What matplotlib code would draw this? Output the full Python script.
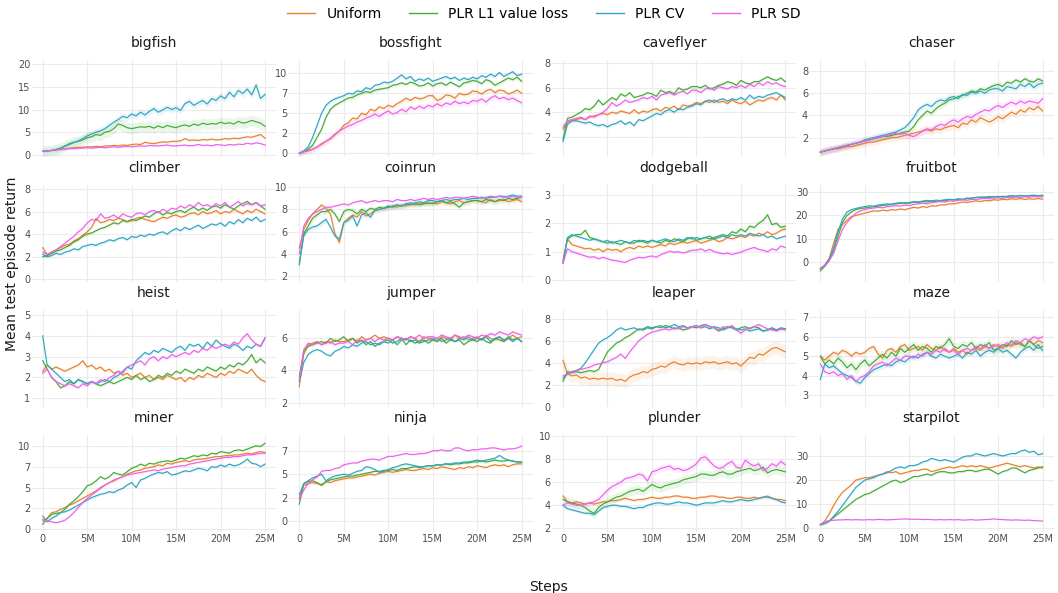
import numpy as np
import matplotlib.pyplot as plt
from matplotlib.lines import Line2D

steps = np.arange(0, 25.5, 0.5) * 1e6

methods = ["Uniform", "PLR L1 value loss", "PLR CV", "PLR SD"]
colors = ["#E7802B", "#44AA33", "#2EA5C3", "#EE5FEE"]

games = ["bigfish", "bossfight", "caveflyer", "chaser",
         "climber", "coinrun", "dodgeball", "fruitbot",
         "heist", "jumper", "leaper", "maze",
         "miner", "ninja", "plunder", "starpilot"]

bigfish_uniform = [0.8, 0.9, 1.0, 1.1, 1.3, 1.4, 1.5, 1.6, 1.7, 1.7,
                   1.8, 1.8, 1.9, 1.8, 2.0, 2.0, 2.1, 2.0, 2.2, 2.1,
                   2.3, 2.4, 2.3, 2.8, 2.6, 2.5, 2.7, 2.9, 2.8, 3.0,
                   3.0, 3.1, 3.6, 3.2, 3.3, 3.2, 3.4, 3.3, 3.5, 3.3,
                   3.4, 3.6, 3.5, 3.7, 3.6, 3.8, 4.0, 3.9, 4.2, 4.5,
                   3.7]
bigfish_l1 = [0.8, 0.9, 1.0, 1.2, 1.5, 2.0, 2.5, 2.8, 3.0, 3.3,
              3.8, 4.0, 4.5, 4.3, 5.0, 5.2, 5.8, 6.8, 6.5, 6.0,
              5.8, 6.0, 6.2, 6.1, 6.3, 5.9, 6.4, 6.0, 6.5, 6.2,
              6.0, 6.4, 6.6, 6.3, 6.8, 6.5, 7.0, 6.7, 6.9, 6.8,
              7.2, 6.9, 7.1, 6.8, 7.4, 7.0, 7.2, 7.6, 7.3, 7.0,
              6.3]
bigfish_cv = [0.8, 0.9, 1.0, 1.2, 1.5, 1.9, 2.3, 2.7, 3.1, 3.6,
              4.2, 4.6, 5.0, 5.3, 5.8, 6.5, 7.2, 7.8, 8.5, 8.2,
              9.0, 8.6, 9.4, 8.8, 9.6, 10.2, 9.4, 9.9, 10.5, 10.0,
              10.4, 9.8, 11.3, 11.8, 10.9, 11.5, 12.0, 11.2, 12.4, 12.0,
              13.0, 12.4, 13.8, 12.8, 14.2, 13.5, 14.5, 13.2, 15.4, 12.4,
              13.3]
bigfish_sd = [0.8, 0.9, 1.0, 1.1, 1.2, 1.3, 1.4, 1.4, 1.5, 1.5,
              1.6, 1.5, 1.6, 1.7, 1.6, 1.7, 1.8, 1.7, 1.8, 1.9,
              1.8, 1.9, 2.0, 1.9, 2.1, 2.0, 2.0, 2.1, 2.2, 2.0,
              2.0, 2.1, 2.2, 2.0, 2.1, 2.3, 2.1, 2.2, 2.0, 2.3,
              2.2, 2.1, 2.3, 2.2, 2.4, 2.3, 2.6, 2.4, 2.7, 2.5,
              2.2]

bossfight_uniform = [0.0, 0.2, 0.3, 0.5, 0.8, 1.2, 1.5, 1.8, 2.3, 2.8,
                     3.5, 3.8, 4.4, 4.3, 5.0, 4.8, 5.5, 5.3, 5.8, 5.6,
                     6.0, 5.8, 6.2, 6.5, 6.9, 6.6, 7.0, 6.8, 6.9, 7.2,
                     7.2, 6.6, 6.8, 7.3, 7.2, 6.9, 7.5, 7.3, 7.4, 7.8,
                     7.7, 7.4, 7.8, 8.0, 7.6, 7.9, 7.8, 7.4, 7.6, 7.9,
                     7.5]
bossfight_l1 = [0.0, 0.2, 0.5, 1.0, 2.0, 3.0, 4.5, 5.5, 6.0, 6.3,
                6.6, 6.9, 7.0, 7.3, 7.5, 7.7, 7.6, 7.9, 8.0, 8.1,
                8.2, 8.5, 8.6, 8.8, 8.6, 8.9, 8.7, 8.4, 8.5, 8.8,
                8.4, 8.7, 8.8, 8.5, 8.9, 8.6, 8.3, 8.8, 8.9, 9.1,
                9.0, 8.7, 9.2, 9.0, 8.5, 8.8, 9.1, 9.4, 9.2, 9.5,
                9.0]
bossfight_cv = [0.0, 0.3, 0.8, 2.0, 3.5, 5.0, 6.0, 6.5, 6.8, 7.0,
                7.2, 7.5, 7.4, 7.8, 7.7, 8.2, 8.0, 8.5, 8.6, 8.9,
                8.8, 9.0, 9.4, 9.8, 9.3, 9.6, 9.0, 9.3, 9.1, 9.4,
                9.0, 9.2, 9.4, 9.6, 9.3, 9.5, 9.1, 9.4, 9.2, 9.5,
                9.3, 9.7, 9.5, 9.9, 9.6, 10.1, 9.6, 9.9, 10.2, 9.7,
                9.9]
bossfight_sd = [0.0, 0.2, 0.3, 0.5, 0.8, 1.1, 1.5, 1.9, 2.4, 2.8,
                3.1, 3.4, 3.6, 3.9, 4.1, 4.4, 4.6, 4.9, 4.6, 5.0,
                5.3, 4.9, 5.1, 5.5, 5.2, 5.8, 5.5, 5.9, 5.6, 6.0,
                5.8, 6.2, 5.9, 6.3, 6.1, 6.5, 6.2, 6.4, 6.2, 6.6,
                6.5, 6.8, 6.4, 6.9, 7.2, 6.8, 7.0, 6.7, 6.9, 6.6,
                6.3]

caveflyer_uniform = [2.6, 3.2, 3.3, 3.4, 3.5, 3.4, 3.6, 3.7, 3.8, 3.9,
                     3.8, 4.0, 3.9, 4.1, 4.0, 3.9, 4.2, 3.9, 4.1, 4.0,
                     4.2, 4.3, 4.1, 4.4, 4.3, 4.5, 4.2, 4.6, 4.5, 4.6,
                     4.8, 4.7, 4.9, 4.8, 5.0, 4.8, 4.9, 4.7, 5.0, 4.8,
                     4.7, 4.9, 4.6, 4.8, 5.0, 4.9, 5.1, 5.2, 5.0, 5.4,
                     5.0]
caveflyer_l1 = [1.8, 3.5, 3.6, 3.8, 4.0, 4.3, 4.2, 4.5, 5.0, 4.6,
                4.9, 5.2, 5.0, 5.5, 5.3, 5.6, 5.2, 5.3, 5.4, 5.6,
                5.5, 5.3, 5.8, 5.6, 5.7, 5.5, 6.0, 5.8, 5.9, 6.1,
                6.1, 6.0, 6.2, 5.9, 6.0, 6.2, 6.3, 6.5, 6.4, 6.2,
                6.6, 6.4, 6.3, 6.5, 6.5, 6.7, 6.9, 6.7, 6.6, 6.8,
                6.5]
caveflyer_cv = [1.6, 3.0, 3.3, 3.3, 3.2, 3.1, 3.2, 3.0, 2.9, 3.0,
                2.8, 3.0, 3.1, 3.3, 3.0, 3.2, 2.9, 3.4, 3.3, 3.5,
                3.7, 3.9, 3.8, 4.1, 4.2, 4.0, 4.3, 4.2, 4.4, 4.5,
                4.7, 4.6, 4.9, 5.0, 4.8, 5.0, 5.1, 4.9, 5.1, 5.0,
                5.2, 5.0, 5.4, 5.1, 5.3, 5.2, 5.4, 5.5, 5.6, 5.4,
                5.2]
caveflyer_sd = [2.8, 3.3, 3.4, 3.5, 3.6, 3.4, 3.7, 3.6, 3.8, 4.0,
                4.3, 4.8, 4.5, 4.7, 5.0, 4.8, 4.9, 5.0, 5.2, 5.1,
                5.3, 5.0, 5.4, 5.5, 5.6, 5.4, 5.6, 5.7, 5.5, 5.8,
                5.8, 5.6, 5.9, 6.0, 5.8, 6.1, 6.0, 5.9, 6.1, 6.0,
                6.2, 6.0, 6.3, 6.1, 6.4, 6.2, 6.5, 6.3, 6.4, 6.2,
                6.1]

chaser_uniform = [0.7, 0.8, 0.9, 1.0, 1.0, 1.1, 1.2, 1.2, 1.3, 1.4,
                  1.5, 1.6, 1.6, 1.7, 1.8, 1.9, 2.0, 2.0, 2.1, 2.2,
                  2.3, 2.4, 2.5, 2.6, 2.7, 2.6, 2.8, 2.7, 2.9, 3.0,
                  3.1, 2.9, 3.3, 3.2, 3.6, 3.4, 3.8, 3.6, 3.4, 3.6,
                  3.9, 3.7, 4.0, 4.3, 4.1, 4.5, 4.3, 4.7, 4.5, 4.8,
                  4.4]
chaser_l1 = [0.7, 0.8, 0.9, 1.0, 1.1, 1.2, 1.3, 1.4, 1.5, 1.6,
             1.7, 1.8, 1.9, 2.0, 2.1, 2.1, 2.2, 2.3, 2.4, 2.5,
             2.6, 3.0, 3.6, 4.0, 4.4, 4.2, 4.6, 4.9, 5.1, 5.4,
             5.5, 5.7, 5.8, 6.0, 6.2, 6.1, 6.4, 6.3, 6.5, 6.7,
             6.8, 6.6, 7.0, 6.9, 7.2, 7.0, 7.3, 7.1, 7.0, 7.3,
             7.1]
chaser_cv = [0.7, 0.8, 0.9, 1.0, 1.1, 1.2, 1.3, 1.4, 1.5, 1.6,
             1.8, 1.9, 2.0, 2.1, 2.2, 2.3, 2.4, 2.5, 2.7, 2.9,
             3.3, 3.8, 4.5, 4.8, 5.0, 4.8, 5.2, 5.4, 5.3, 5.6,
             5.7, 5.5, 5.9, 5.8, 6.1, 6.0, 6.2, 6.0, 6.3, 6.4,
             6.4, 6.2, 6.6, 6.5, 6.4, 6.8, 6.6, 6.9, 6.5, 6.8,
             6.9]
chaser_sd = [0.7, 0.8, 0.9, 1.0, 1.1, 1.2, 1.3, 1.4, 1.5, 1.6,
             1.7, 1.8, 1.9, 2.0, 2.1, 2.2, 2.3, 2.4, 2.3, 2.4,
             2.2, 2.1, 2.3, 2.6, 2.8, 2.7, 3.0, 3.2, 3.1, 3.4,
             3.6, 3.4, 3.7, 3.9, 3.8, 4.1, 4.3, 4.5, 4.4, 4.7,
             4.9, 4.7, 5.0, 5.2, 5.0, 5.3, 5.1, 5.3, 5.2, 5.1,
             5.5]

climber_uniform = [2.8, 2.2, 2.4, 2.6, 2.8, 3.0, 3.1, 3.4, 3.6, 3.9,
                   4.2, 4.6, 5.4, 5.0, 5.1, 5.3, 5.2, 5.4, 5.3, 5.1,
                   5.2, 5.4, 5.5, 5.3, 5.2, 5.1, 5.3, 5.5, 5.4, 5.6,
                   5.7, 5.5, 5.6, 5.8, 5.9, 5.7, 6.0, 5.8, 5.9, 6.1,
                   5.8, 6.0, 5.9, 6.2, 6.0, 5.8, 6.1, 5.9, 6.2, 6.0,
                   5.8]
climber_l1 = [2.0, 2.1, 2.3, 2.5, 2.6, 2.8, 3.0, 3.3, 3.5, 3.8,
              4.0, 4.1, 4.3, 4.5, 4.6, 4.8, 5.0, 4.9, 5.2, 5.1,
              5.3, 5.2, 5.4, 5.6, 5.5, 5.8, 6.0, 5.7, 5.9, 5.8,
              6.0, 6.1, 5.9, 6.2, 6.4, 6.1, 6.3, 6.1, 6.4, 6.5,
              6.3, 6.6, 6.4, 6.2, 6.5, 6.7, 6.9, 6.6, 6.8, 6.5,
              6.2]
climber_cv = [2.2, 2.0, 2.1, 2.3, 2.2, 2.4, 2.5, 2.7, 2.6, 2.9,
              3.0, 3.1, 3.0, 3.2, 3.3, 3.5, 3.4, 3.6, 3.7, 3.5,
              3.8, 3.7, 3.9, 3.8, 4.0, 3.9, 4.1, 4.2, 4.0, 4.3,
              4.5, 4.3, 4.6, 4.4, 4.6, 4.8, 4.5, 4.7, 4.9, 4.8,
              5.0, 4.7, 5.1, 4.9, 5.3, 5.0, 5.4, 5.2, 5.5, 5.1,
              5.3]
climber_sd = [2.4, 2.2, 2.4, 2.6, 2.9, 3.2, 3.5, 3.8, 4.2, 4.5,
              5.0, 5.3, 5.2, 5.8, 5.4, 5.5, 5.7, 5.4, 5.8, 5.6,
              5.5, 5.8, 5.9, 5.7, 6.0, 6.1, 5.9, 6.2, 6.0, 6.3,
              6.2, 6.5, 6.3, 6.6, 6.4, 6.8, 6.5, 6.6, 6.4, 6.7,
              6.5, 6.8, 6.4, 6.6, 6.9, 6.5, 6.7, 6.6, 6.8, 6.5,
              6.6]

coinrun_uniform = [4.5, 6.2, 7.0, 7.6, 8.0, 8.4, 8.1, 7.6, 5.8, 5.0,
                   6.8, 7.2, 7.5, 7.3, 7.8, 7.4, 7.6, 7.9, 8.0, 8.1,
                   8.2, 8.3, 8.2, 8.4, 8.3, 8.5, 8.4, 8.5, 8.6, 8.5,
                   8.6, 8.5, 8.7, 8.6, 8.5, 8.7, 8.8, 8.6, 8.7, 8.8,
                   8.8, 8.7, 8.6, 8.9, 8.7, 8.8, 8.9, 8.7, 8.8, 8.9,
                   8.7]
coinrun_l1 = [3.0, 5.8, 6.5, 7.2, 7.5, 7.8, 7.8, 8.0, 7.6, 6.9,
              7.8, 8.0, 7.9, 7.6, 8.0, 7.8, 8.1, 8.0, 8.2, 8.1,
              8.3, 8.2, 8.4, 8.3, 8.5, 8.4, 8.6, 8.4, 8.5, 8.6,
              8.5, 8.7, 8.8, 8.6, 8.7, 8.5, 8.2, 8.6, 8.7, 8.8,
              8.8, 8.7, 8.9, 8.8, 8.7, 8.9, 8.8, 9.0, 8.9, 9.0,
              9.1]
coinrun_cv = [3.2, 5.6, 6.2, 6.4, 6.5, 6.8, 7.1, 6.4, 5.6, 5.3,
              6.8, 7.0, 7.4, 6.5, 7.5, 7.7, 7.3, 7.9, 8.0, 8.1,
              8.2, 8.3, 8.4, 8.3, 8.5, 8.6, 8.5, 8.7, 8.6, 8.8,
              8.8, 8.7, 8.8, 8.9, 8.8, 8.9, 8.9, 9.0, 8.9, 9.0,
              9.0, 9.1, 9.0, 9.1, 9.1, 9.2, 9.1, 9.2, 9.3, 9.2,
              9.2]
coinrun_sd = [4.0, 6.5, 7.2, 7.6, 7.8, 8.0, 8.2, 8.2, 8.3, 8.4,
              8.5, 8.4, 8.6, 8.7, 8.8, 8.6, 8.7, 8.8, 8.7, 8.8,
              8.8, 8.7, 8.9, 8.8, 8.8, 8.9, 8.8, 8.9, 9.0, 8.9,
              9.0, 8.9, 9.0, 9.1, 9.0, 9.1, 9.1, 9.0, 9.1, 9.2,
              9.1, 9.0, 9.1, 9.2, 9.1, 9.2, 9.2, 9.1, 9.2, 9.1,
              9.1]

dodgeball_uniform = [0.7, 1.45, 1.25, 1.2, 1.15, 1.1, 1.12, 1.05, 1.1, 1.0,
                     1.1, 1.05, 1.08, 1.0, 1.1, 1.15, 1.1, 1.2, 1.15, 1.2,
                     1.15, 1.2, 1.25, 1.2, 1.3, 1.25, 1.3, 1.35, 1.3, 1.35,
                     1.4, 1.3, 1.35, 1.4, 1.45, 1.35, 1.4, 1.5, 1.45, 1.5,
                     1.55, 1.5, 1.6, 1.55, 1.65, 1.6, 1.7, 1.6, 1.65, 1.75,
                     1.8]
dodgeball_l1 = [0.6, 1.45, 1.55, 1.6, 1.6, 1.75, 1.5, 1.45, 1.4, 1.35,
                1.3, 1.35, 1.3, 1.25, 1.35, 1.3, 1.3, 1.4, 1.35, 1.3,
                1.4, 1.35, 1.3, 1.4, 1.35, 1.45, 1.4, 1.35, 1.45, 1.5,
                1.4, 1.45, 1.5, 1.45, 1.5, 1.55, 1.6, 1.55, 1.7, 1.65,
                1.8, 1.7, 1.9, 1.85, 2.0, 2.1, 2.3, 1.95, 2.0, 1.85,
                1.9]
dodgeball_cv = [0.6, 1.5, 1.6, 1.55, 1.5, 1.45, 1.4, 1.45, 1.4, 1.35,
                1.4, 1.3, 1.35, 1.4, 1.35, 1.3, 1.4, 1.35, 1.4, 1.35,
                1.4, 1.35, 1.4, 1.45, 1.4, 1.35, 1.45, 1.4, 1.5, 1.45,
                1.5, 1.45, 1.5, 1.55, 1.45, 1.5, 1.55, 1.5, 1.6, 1.55,
                1.6, 1.55, 1.65, 1.6, 1.55, 1.6, 1.5, 1.55, 1.45, 1.5,
                1.55]
dodgeball_sd = [0.6, 1.1, 1.0, 0.95, 0.9, 0.85, 0.8, 0.82, 0.75, 0.8,
                0.75, 0.7, 0.68, 0.65, 0.62, 0.7, 0.75, 0.8, 0.78, 0.82,
                0.85, 0.8, 0.9, 0.95, 1.02, 0.98, 1.0, 0.95, 1.0, 1.05,
                1.05, 1.1, 1.02, 1.08, 1.0, 0.96, 0.92, 0.95, 0.9, 0.94,
                0.98, 1.05, 1.1, 1.15, 1.08, 1.05, 1.0, 1.1, 1.05, 1.2,
                1.15]

fruitbot_uniform = [-3.0, -1.5, 1.5, 8.0, 14.0, 16.0, 18.0, 19.5, 20.0, 20.5,
                    21.0, 21.5, 22.0, 21.8, 22.3, 22.0, 22.5, 22.3, 22.8, 22.5,
                    23.0, 23.5, 23.2, 23.8, 23.5, 24.2, 24.0, 24.6, 24.5, 25.0,
                    25.0, 25.4, 25.8, 25.6, 26.0, 26.3, 26.0, 26.5, 26.3, 26.8,
                    26.6, 27.0, 26.8, 27.2, 27.0, 27.3, 26.9, 27.2, 27.0, 27.3,
                    27.0]
fruitbot_l1 = [-4.0, -2.0, 0.5, 5.0, 11.0, 17.0, 20.0, 21.5, 22.5, 23.0,
               23.2, 23.5, 23.8, 24.0, 24.3, 24.5, 24.8, 25.0, 25.2, 25.5,
               25.3, 25.8, 25.6, 26.0, 25.8, 26.2, 26.0, 26.5, 26.3, 26.8,
               26.7, 27.0, 26.8, 27.3, 27.5, 27.8, 28.0, 27.8, 28.2, 28.0,
               28.2, 28.0, 28.3, 28.5, 28.2, 28.6, 28.3, 28.5, 28.4, 28.6,
               28.5]
fruitbot_cv = [-3.0, -1.5, 1.0, 6.0, 13.0, 18.5, 21.5, 22.5, 23.0, 23.5,
               23.8, 24.2, 24.0, 24.5, 24.8, 25.0, 24.8, 25.3, 25.5, 25.2,
               25.6, 26.0, 25.8, 26.2, 26.5, 26.3, 26.6, 26.4, 26.8, 27.0,
               26.8, 27.2, 27.0, 27.5, 27.3, 27.8, 27.6, 28.0, 27.8, 28.2,
               28.0, 28.3, 28.1, 28.5, 28.3, 28.7, 28.4, 28.6, 28.8, 28.5,
               28.8]
fruitbot_sd = [-3.0, -1.8, 0.5, 3.5, 9.0, 14.0, 17.0, 19.0, 21.0, 22.0,
               22.5, 23.0, 23.2, 23.5, 23.3, 23.8, 24.0, 24.2, 24.0, 24.5,
               24.3, 24.8, 25.0, 25.3, 25.0, 25.5, 25.8, 26.0, 25.8, 26.3,
               26.2, 26.5, 26.8, 26.5, 27.0, 26.8, 27.2, 27.4, 27.2, 27.5,
               27.6, 27.4, 27.8, 27.6, 28.0, 27.8, 28.1, 27.9, 28.2, 28.0,
               28.1]

heist_uniform = [2.3, 2.6, 2.4, 2.5, 2.4, 2.3, 2.4, 2.5, 2.6, 2.8,
                 2.5, 2.6, 2.4, 2.5, 2.3, 2.4, 2.2, 2.3, 2.1, 2.2,
                 2.0, 2.1, 2.2, 2.0, 2.1, 1.9, 2.0, 1.9, 2.1, 2.0,
                 1.9, 2.0, 1.8, 2.0, 1.9, 2.1, 2.0, 2.2, 2.1, 2.0,
                 2.2, 2.1, 2.3, 2.2, 2.4, 2.3, 2.2, 2.4, 2.1, 1.9,
                 1.8]
heist_l1 = [2.8, 2.4, 2.0, 1.8, 1.5, 1.6, 1.8, 1.7, 1.9, 1.8,
            1.7, 1.8, 1.7, 1.6, 1.7, 1.8, 1.7, 1.8, 1.9, 2.0,
            1.9, 2.1, 1.9, 2.0, 1.8, 1.9, 2.1, 2.0, 2.2, 2.1,
            2.3, 2.2, 2.4, 2.3, 2.2, 2.4, 2.3, 2.5, 2.4, 2.3,
            2.5, 2.4, 2.6, 2.5, 2.7, 2.6, 2.8, 3.1, 2.7, 2.9,
            2.7]
heist_cv = [4.0, 2.6, 2.4, 2.2, 2.0, 1.8, 1.9, 1.7, 1.9, 1.8,
            1.7, 1.8, 1.7, 1.8, 1.9, 1.8, 2.0, 2.1, 2.3, 2.5,
            2.4, 2.8, 3.0, 3.2, 3.1, 3.3, 3.2, 3.4, 3.3, 3.2,
            3.4, 3.5, 3.3, 3.6, 3.5, 3.6, 3.4, 3.7, 3.5, 3.8,
            3.6, 3.5, 3.4, 3.6, 3.5, 3.3, 3.5, 3.4, 3.6, 3.5,
            3.9]
heist_sd = [2.2, 2.4, 2.0, 1.8, 1.7, 1.6, 1.7, 1.6, 1.5, 1.7,
            1.6, 1.8, 1.7, 1.9, 1.8, 2.0, 2.1, 2.3, 2.2, 2.5,
            2.6, 2.7, 2.8, 2.6, 2.9, 3.0, 2.8, 3.0, 2.9, 3.1,
            3.0, 3.1, 3.2, 3.1, 3.3, 3.2, 3.4, 3.3, 3.5, 3.4,
            3.5, 3.6, 3.5, 3.7, 3.6, 3.9, 4.1, 3.8, 3.6, 3.5,
            3.9]

jumper_uniform = [3.0, 5.0, 5.6, 5.7, 5.8, 5.6, 5.8, 5.7, 5.9, 5.8,
                  5.8, 5.9, 6.0, 5.8, 6.1, 5.9, 6.0, 6.2, 6.0, 6.1,
                  6.0, 5.9, 6.1, 6.0, 5.9, 6.1, 6.0, 5.8, 6.1, 6.0,
                  6.0, 5.8, 6.1, 6.0, 5.9, 6.2, 6.0, 6.1, 5.9, 6.0,
                  6.1, 5.9, 6.2, 6.0, 5.9, 6.1, 5.8, 6.0, 6.2, 6.0,
                  6.1]
jumper_l1 = [3.6, 5.2, 5.5, 5.6, 5.7, 5.8, 5.7, 6.0, 5.8, 5.9,
             6.1, 5.8, 6.0, 5.7, 5.9, 5.6, 5.8, 5.5, 5.7, 5.8,
             5.9, 5.7, 5.8, 6.0, 5.6, 5.9, 5.7, 5.8, 5.9, 5.7,
             5.9, 5.8, 6.0, 5.7, 5.9, 5.8, 5.9, 5.6, 5.8, 5.9,
             5.8, 6.0, 5.8, 5.7, 6.0, 5.9, 5.8, 6.1, 5.9, 6.0,
             5.8]
jumper_cv = [3.3, 4.5, 5.0, 5.2, 5.3, 5.2, 5.0, 4.9, 5.2, 5.3,
             5.5, 5.4, 5.6, 5.5, 5.7, 5.8, 5.6, 5.7, 5.6, 5.8,
             5.7, 5.9, 5.6, 5.9, 6.0, 5.8, 5.9, 5.7, 5.8, 5.9,
             5.9, 6.0, 5.8, 5.9, 6.0, 5.8, 6.0, 5.9, 6.1, 5.9,
             6.0, 5.9, 6.1, 5.8, 6.0, 6.1, 5.9, 6.0, 5.8, 6.0,
             5.8]
jumper_sd = [3.4, 5.3, 5.7, 5.6, 5.8, 5.6, 5.7, 5.8, 5.6, 5.7,
             5.7, 5.8, 5.6, 5.9, 5.8, 5.9, 6.0, 5.8, 6.0, 5.9,
             6.0, 5.9, 6.1, 6.0, 5.9, 6.1, 6.0, 6.2, 6.0, 6.1,
             6.1, 6.0, 6.2, 6.1, 6.0, 6.2, 6.1, 6.0, 6.2, 6.1,
             6.0, 6.2, 6.1, 6.3, 6.2, 6.4, 6.3, 6.2, 6.4, 6.3,
             6.2]

leaper_uniform = [4.2, 3.0, 2.8, 2.9, 2.6, 2.7, 2.5, 2.6, 2.5, 2.6,
                  2.5, 2.6, 2.4, 2.5, 2.3, 2.7, 2.9, 3.0, 3.2, 3.1,
                  3.4, 3.5, 3.7, 3.6, 3.9, 4.1, 3.9, 3.8, 4.0, 3.9,
                  4.0, 3.9, 4.1, 4.0, 4.1, 3.9, 4.0, 4.1, 3.9, 4.0,
                  3.7, 4.1, 4.5, 4.4, 4.8, 4.7, 5.0, 5.3, 5.4, 5.2,
                  5.0]
leaper_l1 = [2.3, 3.2, 3.1, 3.2, 3.1, 3.2, 3.3, 3.2, 3.4, 4.2,
             5.0, 5.4, 5.8, 6.0, 6.3, 6.5, 6.8, 7.1, 7.0, 7.2,
             7.1, 7.3, 7.2, 7.4, 7.3, 7.1, 7.2, 7.0, 7.1, 7.3,
             7.2, 7.4, 7.5, 7.3, 7.2, 6.9, 7.1, 7.3, 7.2, 7.0,
             7.2, 7.3, 7.1, 7.3, 7.2, 6.9, 7.0, 7.2, 7.0, 7.1,
             7.1]
leaper_cv = [2.6, 3.0, 3.2, 3.3, 3.5, 4.0, 4.6, 5.2, 5.8, 6.1,
             6.3, 6.6, 7.0, 7.2, 7.0, 7.1, 7.2, 7.0, 7.1, 7.3,
             7.2, 7.3, 7.4, 7.2, 7.3, 7.5, 7.3, 7.4, 7.2, 7.3,
             7.4, 7.2, 7.3, 7.1, 7.3, 7.2, 7.0, 7.2, 7.3, 7.1,
             7.0, 7.1, 6.9, 7.0, 7.1, 6.9, 7.0, 7.1, 7.0, 7.2,
             7.1]
leaper_sd = [2.8, 3.0, 3.1, 3.3, 3.4, 3.5, 3.6, 3.8, 3.9, 4.0,
             4.1, 4.3, 4.5, 4.8, 4.4, 5.0, 5.5, 6.0, 6.3, 6.6,
             6.8, 6.9, 7.0, 7.1, 7.0, 7.2, 7.1, 7.3, 7.2, 7.3,
             7.4, 7.2, 7.5, 7.3, 7.2, 7.0, 7.3, 7.2, 7.4, 7.0,
             6.7, 7.0, 7.2, 7.3, 7.5, 7.3, 7.1, 7.0, 6.9, 7.1,
             7.0]

maze_uniform = [5.0, 4.8, 5.0, 5.2, 5.1, 5.3, 5.2, 5.0, 5.2, 5.1,
                5.2, 5.4, 5.5, 5.1, 4.9, 5.3, 5.4, 5.2, 5.5, 5.6,
                5.3, 5.4, 5.5, 5.3, 5.6, 5.4, 5.3, 5.5, 5.3, 5.2,
                5.4, 5.2, 5.3, 5.1, 5.3, 5.4, 5.3, 5.5, 5.4, 5.6,
                5.5, 5.4, 5.6, 5.5, 5.7, 5.6, 5.5, 5.8, 5.6, 5.8,
                5.7]
maze_l1 = [5.0, 4.6, 4.8, 4.6, 4.9, 4.7, 4.4, 4.6, 4.3, 4.6,
           4.8, 4.5, 4.7, 4.9, 5.1, 4.9, 5.2, 5.0, 5.4, 5.2,
           5.4, 5.6, 5.3, 5.5, 5.4, 5.2, 5.5, 5.4, 5.6, 5.9,
           5.5, 5.4, 5.6, 5.5, 5.7, 5.4, 5.6, 5.5, 5.7, 5.3,
           5.4, 5.6, 5.5, 5.8, 5.6, 5.7, 5.5, 5.8, 5.6, 5.4,
           5.5]
maze_cv = [3.8, 4.6, 4.4, 4.5, 4.3, 4.1, 4.0, 3.9, 3.7, 3.6,
           3.9, 4.1, 4.3, 4.4, 4.5, 4.6, 4.5, 4.7, 4.8, 4.7,
           4.9, 5.0, 4.9, 5.1, 5.2, 5.0, 4.9, 5.1, 5.0, 4.9,
           5.0, 5.1, 4.9, 5.2, 5.1, 5.3, 5.0, 5.2, 5.3, 5.2,
           5.4, 5.2, 5.3, 5.1, 4.9, 5.2, 5.4, 5.5, 5.3, 5.6,
           5.3]
maze_sd = [4.6, 4.2, 4.1, 4.2, 4.0, 4.1, 3.8, 4.0, 3.7, 3.9,
           4.0, 4.2, 4.5, 4.6, 4.7, 4.5, 4.7, 4.9, 4.8, 5.0,
           5.0, 4.9, 5.1, 5.0, 5.2, 5.1, 5.3, 5.2, 5.4, 5.2,
           5.3, 5.1, 5.3, 5.4, 5.3, 5.5, 5.4, 5.6, 5.4, 5.5,
           5.6, 5.5, 5.7, 5.6, 5.8, 5.7, 5.9, 5.8, 6.0, 5.9,
           6.0]

miner_uniform = [1.0, 1.3, 2.0, 2.1, 2.4, 2.6, 2.9, 3.1, 3.4, 3.7,
                 4.0, 4.3, 4.6, 5.0, 5.3, 5.6, 5.8, 6.1, 6.3, 6.6,
                 6.8, 7.0, 7.1, 7.3, 7.4, 7.5, 7.7, 7.6, 7.9, 7.8,
                 8.0, 8.1, 8.2, 8.1, 8.3, 8.4, 8.4, 8.5, 8.6, 8.7,
                 8.7, 8.8, 8.8, 8.9, 8.9, 9.0, 9.1, 9.0, 9.2, 9.3,
                 9.2]
miner_l1 = [0.6, 1.3, 1.8, 1.9, 2.0, 2.4, 3.0, 3.4, 3.9, 4.5,
            5.2, 5.4, 5.8, 6.3, 6.0, 6.3, 6.8, 6.6, 6.5, 6.9,
            7.3, 7.5, 7.8, 7.6, 7.9, 7.8, 8.0, 8.1, 8.2, 8.1,
            8.3, 8.5, 8.4, 8.6, 8.8, 8.7, 8.9, 8.8, 9.1, 9.0,
            9.3, 9.2, 9.1, 9.4, 9.5, 9.4, 9.6, 9.8, 10.0, 9.9,
            10.3]
miner_cv = [1.6, 0.9, 1.3, 1.6, 2.0, 2.1, 2.3, 2.6, 2.9, 3.2,
            3.5, 3.8, 4.0, 4.2, 4.3, 4.5, 4.4, 4.7, 4.9, 5.3,
            5.6, 5.0, 5.9, 6.1, 6.4, 6.6, 6.8, 6.7, 6.9, 6.5,
            6.6, 6.8, 7.0, 6.9, 7.1, 7.3, 7.2, 7.0, 7.5, 7.4,
            7.7, 7.5, 7.8, 7.6, 7.7, 8.0, 8.4, 7.9, 7.8, 7.5,
            7.8]
miner_sd = [1.2, 1.0, 0.9, 0.8, 0.9, 1.1, 1.5, 2.0, 2.6, 3.2,
            3.7, 4.1, 4.5, 4.9, 5.3, 5.6, 5.9, 6.1, 6.3, 6.5,
            6.6, 6.7, 6.8, 6.9, 7.0, 7.1, 7.0, 7.2, 7.3, 7.4,
            7.5, 7.6, 7.6, 7.8, 7.9, 8.0, 8.1, 8.2, 8.3, 8.4,
            8.5, 8.6, 8.6, 8.7, 8.7, 8.8, 8.9, 8.9, 9.0, 9.1,
            9.1]

ninja_uniform = [2.5, 3.8, 4.0, 4.1, 4.0, 3.9, 4.2, 4.1, 4.3, 4.4,
                 4.5, 4.6, 4.6, 4.7, 4.8, 4.9, 5.0, 4.9, 5.1, 5.2,
                 5.3, 5.2, 5.3, 5.4, 5.5, 5.4, 5.4, 5.5, 5.6, 5.5,
                 5.7, 5.6, 5.8, 5.7, 5.6, 5.5, 5.7, 5.6, 5.8, 5.7,
                 5.9, 5.8, 5.7, 5.9, 6.0, 5.9, 6.0, 5.8, 6.0, 6.1,
                 6.1]
ninja_l1 = [1.8, 4.0, 4.2, 4.3, 4.1, 3.8, 4.2, 4.4, 4.5, 4.6,
            4.7, 4.8, 4.8, 4.9, 5.0, 5.1, 5.2, 5.3, 5.3, 5.4,
            5.4, 5.5, 5.4, 5.6, 5.6, 5.7, 5.8, 5.7, 5.8, 5.9,
            5.9, 6.0, 6.0, 6.1, 6.0, 6.1, 6.1, 6.2, 6.2, 6.3,
            6.3, 6.4, 6.3, 6.4, 6.5, 6.4, 6.4, 6.5, 6.4, 6.3,
            6.3]
ninja_cv = [2.8, 4.0, 4.3, 4.6, 4.8, 5.0, 4.3, 4.6, 4.8, 4.9,
            5.0, 4.9, 5.1, 5.3, 5.4, 5.8, 5.7, 5.5, 5.2, 5.3,
            5.5, 5.7, 5.8, 6.0, 6.1, 6.0, 5.9, 5.8, 5.8, 5.9,
            5.9, 6.0, 6.0, 6.1, 6.1, 6.2, 6.2, 6.3, 6.3, 6.4,
            6.5, 6.4, 6.5, 6.6, 6.7, 7.0, 6.7, 6.5, 6.4, 6.3,
            6.3]
ninja_sd = [2.3, 3.3, 4.0, 4.4, 4.7, 5.3, 5.4, 5.4, 5.6, 5.7,
            6.0, 6.1, 6.2, 6.2, 6.4, 6.5, 6.6, 6.6, 6.5, 6.7,
            6.9, 6.9, 7.0, 7.1, 7.2, 7.1, 7.1, 7.2, 7.2, 7.3,
            7.5, 7.5, 7.6, 7.5, 7.5, 7.8, 7.8, 7.6, 7.5, 7.6,
            7.6, 7.7, 7.7, 7.8, 7.8, 7.7, 7.6, 7.7, 7.7, 7.8,
            8.0]

plunder_uniform = [4.8, 4.3, 4.2, 4.3, 4.2, 4.1, 4.2, 4.1, 4.2, 4.3,
                   4.3, 4.4, 4.4, 4.5, 4.6, 4.5, 4.4, 4.5, 4.5, 4.6,
                   4.7, 4.6, 4.6, 4.7, 4.7, 4.8, 4.8, 4.7, 4.7, 4.6,
                   4.6, 4.7, 4.7, 4.8, 4.8, 4.7, 4.7, 4.6, 4.6, 4.7,
                   4.7, 4.6, 4.6, 4.7, 4.6, 4.7, 4.8, 4.6, 4.5, 4.5,
                   4.4]
plunder_l1 = [4.5, 4.3, 4.2, 4.1, 4.0, 3.8, 3.5, 3.3, 3.8, 4.1,
              4.3, 4.5, 4.7, 4.8, 5.0, 5.2, 5.3, 5.4, 5.2, 5.5,
              5.8, 5.6, 5.5, 5.7, 5.8, 5.9, 6.0, 6.2, 6.3, 6.4,
              6.5, 6.7, 6.7, 6.6, 6.6, 6.8, 6.9, 6.7, 6.7, 6.9,
              7.0, 7.1, 7.2, 7.0, 7.1, 7.3, 6.8, 7.0, 7.1, 7.0,
              6.9]
plunder_cv = [4.0, 3.7, 3.6, 3.5, 3.4, 3.3, 3.3, 3.2, 3.5, 3.8,
              3.9, 4.0, 4.0, 3.9, 3.9, 3.8, 3.7, 3.8, 3.8, 4.0,
              4.1, 4.2, 4.2, 4.1, 4.1, 4.2, 4.3, 4.2, 4.2, 4.1,
              4.0, 4.1, 4.2, 4.2, 4.2, 4.3, 4.4, 4.3, 4.3, 4.4,
              4.5, 4.4, 4.4, 4.5, 4.6, 4.7, 4.7, 4.6, 4.5, 4.3,
              4.2]
plunder_sd = [4.0, 4.2, 4.1, 4.0, 4.0, 4.1, 4.2, 4.3, 4.5, 4.9,
              5.3, 5.6, 5.8, 6.0, 6.3, 6.4, 6.5, 6.7, 6.6, 6.1,
              6.9, 7.0, 7.2, 7.3, 7.4, 7.1, 7.2, 7.0, 7.1, 7.3,
              7.6, 8.1, 8.2, 7.8, 7.4, 7.2, 7.3, 7.6, 7.8, 7.3,
              7.2, 7.9, 7.6, 7.4, 7.6, 7.0, 7.2, 7.6, 7.4, 7.8,
              7.5]

starpilot_uniform = [1.5, 3.0, 6.0, 9.5, 12.5, 15.0, 16.5, 18.0, 20.0, 20.5,
                     21.0, 21.0, 21.5, 22.0, 22.5, 23.5, 23.0, 23.5, 22.5, 23.0,
                     23.5, 24.0, 24.0, 24.5, 24.5, 23.5, 24.0, 24.5, 25.0, 25.5,
                     25.0, 25.5, 26.0, 25.5, 26.0, 25.5, 26.0, 25.5, 25.0, 25.5,
                     26.0, 26.5, 27.0, 26.5, 26.0, 25.5, 26.0, 25.5, 25.0, 25.5,
                     25.0]
starpilot_l1 = [1.5, 2.0, 3.0, 4.5, 6.0, 7.5, 9.0, 10.5, 12.0, 13.0,
                14.0, 14.5, 15.5, 16.5, 17.5, 18.5, 19.5, 20.0, 19.0, 19.5,
                20.5, 21.5, 21.5, 22.0, 22.5, 22.0, 23.0, 23.5, 23.5, 23.0,
                23.0, 23.5, 23.5, 24.0, 24.0, 23.5, 24.0, 24.5, 24.5, 23.5,
                22.5, 23.5, 24.0, 25.0, 25.0, 24.0, 23.0, 24.0, 24.5, 25.0,
                25.5]
starpilot_cv = [1.5, 2.0, 3.0, 5.0, 7.0, 9.5, 12.0, 14.5, 17.0, 18.5,
                20.0, 20.5, 21.0, 22.0, 22.5, 23.0, 24.0, 25.0, 25.5, 25.0,
                26.0, 26.0, 26.5, 27.5, 28.0, 29.0, 28.5, 28.0, 28.5, 28.0,
                27.5, 28.5, 29.5, 30.0, 30.0, 31.0, 30.5, 30.0, 30.5, 31.0,
                30.5, 30.0, 30.5, 31.0, 31.0, 32.0, 32.5, 31.5, 32.0, 30.5,
                31.0]
starpilot_sd = [1.5, 2.8, 3.2, 3.3, 3.5, 3.5, 3.6, 3.5, 3.6, 3.5,
                3.5, 3.6, 3.5, 3.7, 3.6, 3.5, 3.6, 3.7, 3.8, 3.9,
                3.8, 3.7, 3.8, 3.6, 3.7, 3.6, 3.5, 3.6, 3.5, 3.6,
                3.5, 3.6, 3.4, 3.5, 3.6, 3.4, 3.5, 3.6, 3.7, 3.9,
                3.7, 3.6, 3.5, 3.4, 3.5, 3.4, 3.3, 3.4, 3.2, 3.1,
                3.0]

curves = {
    "bigfish": [bigfish_uniform, bigfish_l1, bigfish_cv, bigfish_sd],
    "bossfight": [bossfight_uniform, bossfight_l1, bossfight_cv, bossfight_sd],
    "caveflyer": [caveflyer_uniform, caveflyer_l1, caveflyer_cv, caveflyer_sd],
    "chaser": [chaser_uniform, chaser_l1, chaser_cv, chaser_sd],
    "climber": [climber_uniform, climber_l1, climber_cv, climber_sd],
    "coinrun": [coinrun_uniform, coinrun_l1, coinrun_cv, coinrun_sd],
    "dodgeball": [dodgeball_uniform, dodgeball_l1, dodgeball_cv, dodgeball_sd],
    "fruitbot": [fruitbot_uniform, fruitbot_l1, fruitbot_cv, fruitbot_sd],
    "heist": [heist_uniform, heist_l1, heist_cv, heist_sd],
    "jumper": [jumper_uniform, jumper_l1, jumper_cv, jumper_sd],
    "leaper": [leaper_uniform, leaper_l1, leaper_cv, leaper_sd],
    "maze": [maze_uniform, maze_l1, maze_cv, maze_sd],
    "miner": [miner_uniform, miner_l1, miner_cv, miner_sd],
    "ninja": [ninja_uniform, ninja_l1, ninja_cv, ninja_sd],
    "plunder": [plunder_uniform, plunder_l1, plunder_cv, plunder_sd],
    "starpilot": [starpilot_uniform, starpilot_l1, starpilot_cv, starpilot_sd],
}

# rough standard error band per method (same order as methods)
ribbon = {
    "bigfish": [0.3, 1.2, 0.8, 0.15], "bossfight": [0.3, 0.25, 0.25, 0.4],
    "caveflyer": [0.15, 0.15, 0.15, 0.15], "chaser": [0.35, 0.25, 0.3, 0.35],
    "climber": [0.15, 0.15, 0.15, 0.15], "coinrun": [0.25, 0.25, 0.25, 0.1],
    "dodgeball": [0.06, 0.08, 0.04, 0.06], "fruitbot": [0.4, 0.4, 0.4, 0.4],
    "heist": [0.08, 0.08, 0.08, 0.08], "jumper": [0.08, 0.08, 0.08, 0.12],
    "leaper": [0.6, 0.15, 0.1, 0.15], "maze": [0.15, 0.25, 0.15, 0.15],
    "miner": [0.15, 0.15, 0.15, 0.15], "ninja": [0.15, 0.15, 0.15, 0.1],
    "plunder": [0.15, 0.4, 0.15, 0.3], "starpilot": [0.5, 0.5, 0.5, 0.15],
}

ylims = {
    "bigfish": (-0.44, 20.88), "bossfight": (-0.46, 11.66),
    "caveflyer": (0.34, 8.27), "chaser": (0.26, 8.99),
    "climber": (-0.24, 8.35), "coinrun": (1.43, 10.21),
    "dodgeball": (-0.07, 3.35), "fruitbot": (-8.8, 33.16),
    "heist": (0.58, 5.24), "jumper": (1.73, 7.76),
    "leaper": (-0.03, 8.82), "maze": (2.38, 7.38),
    "miner": (-0.32, 11.28), "ninja": (-1.17, 9.18),
    "plunder": (1.68, 10.09), "starpilot": (-1.54, 38.7),
}

yticks = {
    "bigfish": [0, 5, 10, 15, 20], "bossfight": [0, 2.5, 5, 7.5, 10],
    "caveflyer": [2, 4, 6, 8], "chaser": [2, 4, 6, 8],
    "climber": [0, 2, 4, 6, 8], "coinrun": [2, 4, 6, 8, 10],
    "dodgeball": [0, 1, 2, 3], "fruitbot": [0, 10, 20, 30],
    "heist": [1, 2, 3, 4, 5], "jumper": [2, 4, 6],
    "leaper": [0, 2, 4, 6, 8], "maze": [3, 4, 5, 6, 7],
    "miner": [0, 2.5, 5, 7.5, 10], "ninja": [0, 2.5, 5, 7.5],
    "plunder": [2, 4, 6, 8, 10], "starpilot": [0, 10, 20, 30],
}

xticks = [0, 5e6, 10e6, 15e6, 20e6, 25e6]
xticklabels = ["0", "5M", "10M", "15M", "20M", "25M"]

W, H = 1058, 593
fig = plt.figure(figsize=(W / 100, H / 100), dpi=100)

col_x0 = [42.7, 299.3, 563.0, 820.3]   # pixel of step 0 in each column
px_per_m = 222.3 / 25
row_top = [60, 185, 310, 435]
panel_h = 97

for i, game in enumerate(games):
    r, c = divmod(i, 4)
    left = col_x0[c] - 1.25 * px_per_m
    width = 27.5 * px_per_m
    ax = fig.add_axes([left / W, 1 - (row_top[r] + panel_h) / H, width / W, panel_h / H])

    for vals, spread, color in zip(curves[game], ribbon[game], colors):
        v = np.array(vals)
        ax.fill_between(steps, v - spread, v + spread, color=color, alpha=0.1, lw=0)
    for vals, color in zip(curves[game], colors):
        ax.plot(steps, vals, color=color, lw=0.85)

    ax.set_xlim(-1.25e6, 26.25e6)
    ax.set_ylim(*ylims[game])
    ax.set_xticks(xticks)
    ax.set_xticklabels(xticklabels if r == 3 else [])
    ax.set_yticks(yticks[game])
    ax.set_yticklabels([str(int(t)) for t in yticks[game]])

    for spine in ax.spines.values():
        spine.set_visible(False)
    ax.grid(True, color="#EBEBEB", lw=0.8)
    ax.set_axisbelow(True)
    ax.tick_params(length=0, labelsize=7, labelcolor="#4D4D4D")
    ax.tick_params(axis="y", pad=0.8)
    ax.tick_params(axis="x", pad=1.5)

    ax.text(0.5, 1 + 17 / panel_h, game, transform=ax.transAxes,
            ha="center", va="center", fontsize=10, color="#1A1A1A")

handles = [Line2D([], [], color=c, lw=1.0) for c in colors]
fig.legend(handles, methods, loc="center", bbox_to_anchor=(544 / W, 1 - 14 / H),
           ncol=4, frameon=False, fontsize=10, handlelength=2.0,
           handletextpad=0.8, columnspacing=2.0)

fig.text(12 / W, 1 - 264 / H, "Mean test episode return", rotation=90,
         ha="center", va="center", fontsize=10, color="#1A1A1A")
fig.text(548 / W, 1 - 587 / H, "Steps", ha="center", va="center",
         fontsize=10, color="#1A1A1A")

fig.savefig("out.png", dpi=100)
